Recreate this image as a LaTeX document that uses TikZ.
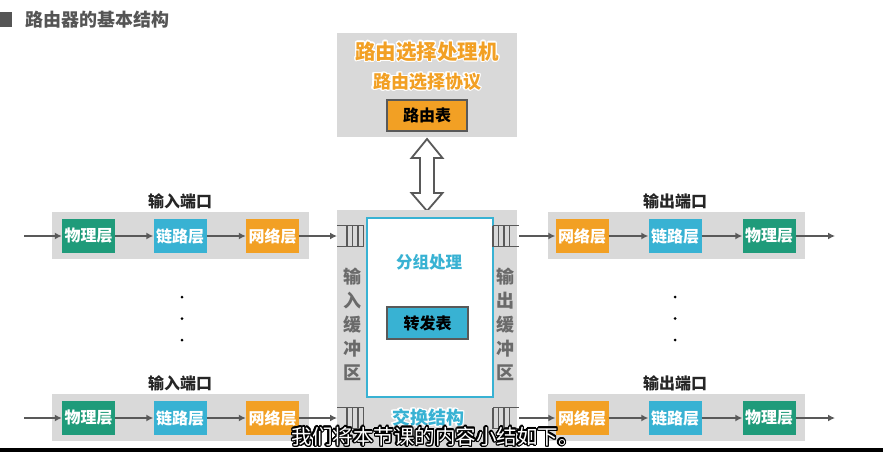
\documentclass[tikz,border=0pt]{standalone}
\usepackage{fontspec}
\usepackage{contour}
\newfontfamily\cjk{Noto Sans CJK SC}
\usetikzlibrary{arrows.meta}
\definecolor{bggray}{HTML}{D9D9D9}
\definecolor{dk}{HTML}{595959}
\definecolor{lgreen}{HTML}{1F9B7A}
\definecolor{lcyan}{HTML}{38B2D3}
\definecolor{lorange}{HTML}{F2A024}
\definecolor{vgray}{HTML}{6A6A6A}
\definecolor{ttl}{HTML}{555555}
\contourlength{1.1pt}
\tikzset{
  panel/.style={fill=bggray, draw=none},
  layer/.style={draw=none, minimum width=53pt, minimum height=34pt, inner sep=0pt,
    text=white, font=\cjk\bfseries\fontsize{16}{16}\selectfont},
  phys/.style={layer, fill=lgreen},
  link/.style={layer, fill=lcyan},
  net/.style={layer, fill=lorange},
  conn/.style={draw=dk, line width=2pt, -{Latex[length=7pt,width=7pt]}},
  portlabel/.style={font=\cjk\bfseries\fontsize{16}{16}\selectfont, text=black!85},
  tablebox/.style={draw=dk, line width=1.6pt, inner sep=0pt, text=black,
    font=\cjk\bfseries\fontsize{16}{16}\selectfont},
  vtext/.style={align=center, text=vgray, font=\cjk\bfseries\fontsize{18}{24}\selectfont},
  qline/.style={draw=dk, line width=1.4pt},
  dotmark/.style={fill=black, draw=none, circle, inner sep=0pt, minimum size=3pt}
}
\begin{document}
\begin{tikzpicture}[x=1pt,y=-1pt]
\useasboundingbox (0,0) rectangle (883,452);
\fill[white] (0,0) rectangle (883,452);

% title
\fill[ttl] (0,12) rectangle (12,27);
\node[anchor=west, text=ttl, font=\cjk\bfseries\fontsize{18}{18}\selectfont, inner sep=0pt] (title) at (25,20) {路由器的基本结构};

% routing processor
\fill[panel] (337,33) rectangle (517,137);
\node[text=lorange, font=\cjk\bfseries\fontsize{20.5}{21}\selectfont, inner sep=0pt] (rp) at (427,52) {\contour{white}{路由选择处理机}};
\node[text=lorange, font=\cjk\bfseries\fontsize{18}{18}\selectfont, inner sep=0pt] (rproto) at (427,82) {\contour{white}{路由选择协议}};
\node[tablebox, fill=lorange, minimum width=80pt, minimum height=31pt] (rtable) at (427,115.5) {路由表};

% double arrow
\draw[dk, line width=1.8pt, fill=white, line join=miter]
  (427,139) -- (442.5,158) -- (434,158) -- (434,193) -- (442.5,193) -- (427,211)
  -- (411.5,193) -- (420,193) -- (420,158) -- (411.5,158) -- cycle;

% switching fabric
\fill[panel] (337,210) rectangle (517,448);
\draw[lcyan, line width=2pt, fill=white] (367,218) rectangle (493,397);
\node[text=lcyan, font=\cjk\bfseries\fontsize{16.5}{17}\selectfont, inner sep=0pt] (grp) at (429,263) {\contour{white}{分组处理}};
\node[tablebox, fill=lcyan, minimum width=81pt, minimum height=32pt] (ftable) at (427.5,323) {转发表};
\node[vtext] (inbuf) at (352,324.5) {输\\入\\缓\\冲\\区};
\node[vtext] (outbuf) at (505,324.5) {输\\出\\缓\\冲\\区};
\node[text=lcyan, font=\cjk\bfseries\fontsize{18}{18}\selectfont, inner sep=0pt] (sw) at (428,418) {\contour{white}{交换结构}};

% queues
\foreach \yc/\nm in {236/a, 418/b}{
  \draw[qline] (337,\yc-10.5) -- (363.5,\yc-10.5) (337,\yc+10.5) -- (363.5,\yc+10.5);
  \foreach \xx in {347,352.5,358,363.5} \draw[qline] (\xx,\yc-10.5) -- (\xx,\yc+10.5);
  \coordinate (qin\nm) at (337,\yc);
  \draw[qline] (493,\yc-10.5) -- (519,\yc-10.5) (493,\yc+10.5) -- (519,\yc+10.5);
  \foreach \xx in {493,498.5,504,509.5} \draw[qline] (\xx,\yc-10.5) -- (\xx,\yc+10.5);
  \coordinate (qout\nm) at (519,\yc);
}

% input ports
\foreach \yc/\nm in {236/a, 418/b}{
  \fill[panel] (52,\yc-24) rectangle (309,\yc+23);
  \node[portlabel] (inl\nm) at (180,\yc-35) {输入端口};
  \node[phys] (iphy\nm) at (88.5,\yc) {物理层};
  \node[link] (ilnk\nm) at (180,\yc) {链路层};
  \node[net] (inet\nm) at (272.5,\yc) {网络层};
  \coordinate (src\nm) at (24,\yc);
  \draw[conn] (src\nm) -- (iphy\nm);
  \draw[conn] (iphy\nm) -- (ilnk\nm);
  \draw[conn] (ilnk\nm) -- (inet\nm);
  \draw[conn] (inet\nm) -- (qin\nm);
}

% output ports
\foreach \yc/\nm in {236/a, 418/b}{
  \fill[panel] (548,\yc-24) rectangle (805,\yc+23);
  \node[portlabel] (outl\nm) at (675,\yc-35) {输出端口};
  \node[net] (onet\nm) at (582,\yc) {网络层};
  \node[link] (olnk\nm) at (675,\yc) {链路层};
  \node[phys] (ophy\nm) at (769,\yc) {物理层};
  \coordinate (dst\nm) at (835,\yc);
  \draw[conn] (qout\nm) -- (onet\nm);
  \draw[conn] (onet\nm) -- (olnk\nm);
  \draw[conn] (olnk\nm) -- (ophy\nm);
  \draw[conn] (ophy\nm) -- (dst\nm);
}

% dots
\foreach \yy in {297,318.5,340}{
  \node[dotmark] at (182,\yy) {};
  \node[dotmark] at (675,\yy) {};
}

% bottom bar and subtitle
\fill[black] (0,448) rectangle (883,452);
\begingroup\contourlength{1.3pt}
\node[text=white, font=\cjk\fontsize{20.5}{21}\selectfont, inner sep=0pt] (sub) at (435,437) {\contour{black}{我们将本节课的内容小结如下。}};
\endgroup
\end{tikzpicture}
\end{document}
